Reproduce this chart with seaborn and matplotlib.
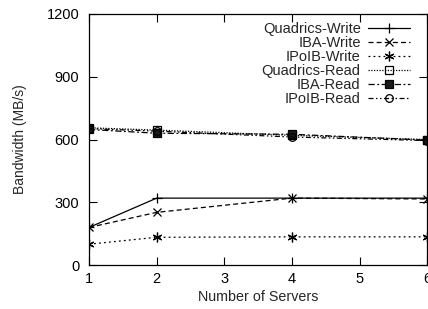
import matplotlib
matplotlib.use("Agg")
import matplotlib.pyplot as plt
import seaborn as sns
import pandas as pd

# --- data ---
servers = [1, 2, 4, 6]
quadrics_write = [180, 320, 320, 320]
iba_write = [180, 252, 320, 316]
ipoib_write = [100, 133, 135, 135]
quadrics_read = [656, 645, 620, 600]
iba_read = [648, 630, 625, 597]
ipoib_read = [652, 640, 612, 595]

series = [
    ("Quadrics-Write", quadrics_write),
    ("IBA-Write", iba_write),
    ("IPoIB-Write", ipoib_write),
    ("Quadrics-Read", quadrics_read),
    ("IBA-Read", iba_read),
    ("IPoIB-Read", ipoib_read),
]

# line style / marker for each series (gnuplot-ish)
styles = {
    "Quadrics-Write": dict(linestyle="-", marker="+", ms=7, mfc="k"),
    "IBA-Write": dict(linestyle=(0, (4, 2.5)), marker="x", ms=5.5, mfc="k"),
    "IPoIB-Write": dict(linestyle=(0, (1.5, 2.5)), marker=(6, 2, 0), ms=7, mfc="k"),
    "Quadrics-Read": dict(linestyle=(0, (1, 1.2)), marker="s", ms=5.5, mfc="none"),
    "IBA-Read": dict(linestyle=(0, (5, 2, 1.5, 2)), marker="s", ms=6, mfc="k"),
    "IPoIB-Read": dict(linestyle=(0, (4, 2, 1.2, 2, 1.2, 2)), marker="o", ms=5.5, mfc="none"),
}

sns.set_theme(style="ticks")
plt.rcParams['font.family'] = ['Liberation Sans', 'DejaVu Sans']
plt.rcParams['font.size'] = 10

fig = plt.figure(figsize=(4.28, 3.09), dpi=100)
ax = fig.add_axes([0.208, 0.142, 0.79, 0.813])

for name, vals in series:
    df = pd.DataFrame({"servers": servers, "bw": vals})
    sns.lineplot(data=df, x="servers", y="bw", ax=ax, color="black", lw=0.9,
                 mec="black", mew=0.9, label=name, **styles[name])

ax.set_xlim(1, 6)
ax.set_ylim(0, 1200)
ax.set_xticks([1, 2, 3, 4, 5, 6])
ax.set_yticks([0, 300, 600, 900, 1200])
ax.tick_params(direction="in", length=6, width=0.8, top=True, right=True,
               labelsize=10.5, colors="black")
ax.tick_params(axis="x", pad=5)
ax.tick_params(axis="y", pad=7)
for s in ax.spines.values():
    s.set_linewidth(0.9)
    s.set_color("black")
ax.set_xlabel("Number of Servers", fontsize=10.3, labelpad=3)
ax.set_ylabel("Bandwidth (MB/s)", fontsize=10, labelpad=14)

leg = ax.legend(loc="upper right", bbox_to_anchor=(0.95, 0.968), frameon=False,
                markerfirst=False, fontsize=10.5, labelspacing=0.0,
                handlelength=2.9, handletextpad=0.5, borderaxespad=0, borderpad=0)

fig.savefig("out.png", dpi=100)
